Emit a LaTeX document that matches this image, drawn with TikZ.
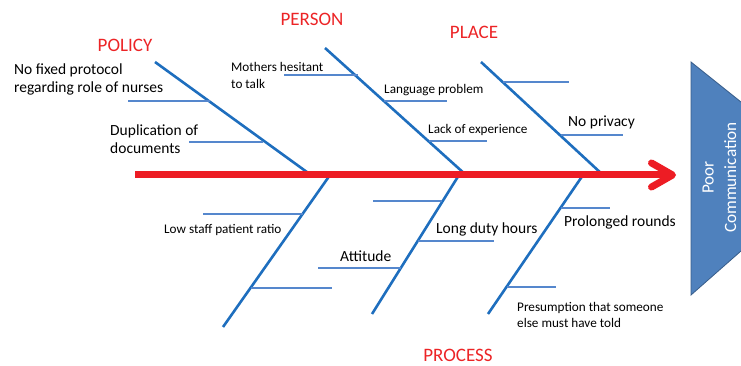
\documentclass[tikz,border=0pt]{standalone}
\usepackage{fontspec}
\setmainfont{Carlito}
\usetikzlibrary{arrows.meta}

\definecolor{bonecol}{RGB}{30,110,190}
\definecolor{twigcol}{RGB}{85,135,205}
\definecolor{spinecol}{RGB}{237,28,36}
\definecolor{catcol}{RGB}{236,36,38}
\definecolor{headfill}{RGB}{79,129,189}
\definecolor{headedge}{RGB}{56,93,138}

\begin{document}
\begin{tikzpicture}[x=1pt,y=-1pt,
  bone/.style={draw=bonecol,line width=2.6pt},
  twig/.style={draw=twigcol,line width=1.3pt},
  spine/.style={draw=spinecol,line width=7pt,
    -{Straight Barb[length=21pt,width=24pt,round]}},
  cat/.style={text=catcol,font=\fontsize{19}{21}\selectfont,inner sep=0pt},
  cause/.style={font=\fontsize{15.5}{18}\selectfont,inner sep=0pt,
    anchor=west,align=left},
  smallcause/.style={font=\fontsize{13.2}{16.5}\selectfont,inner sep=0pt,
    anchor=west,align=left},
]
\useasboundingbox (0,0) rectangle (741,366);

% ---- effect box (head of the fish)
\coordinate (h1) at (691,62);
\coordinate (h2) at (741,102);
\coordinate (h3) at (741,251);
\coordinate (h4) at (691,295);
\fill[headfill] (h1) -- (h2) -- (h3) -- (h4) -- cycle;
\draw[headedge,line width=0.8pt] (h2) -- (h1) -- (h4) -- (h3);
\node[rotate=90,text=white,align=center,
  font=\fontsize{17.2}{22.5}\selectfont] (effect) at (719.5,177.5)
  {Poor\\Communication};

% ---- upper bones
\coordinate (policyTop) at (155,62);   \coordinate (policyFoot) at (311,175);
\coordinate (personTop) at (325,48);   \coordinate (personFoot) at (466,175);
\coordinate (placeTop)  at (481,62);   \coordinate (placeFoot)  at (603,175);
\draw[bone] (policyTop) -- (policyFoot);
\draw[bone] (personTop) -- (personFoot);
\draw[bone] (placeTop) -- (placeFoot);

% ---- lower bones
\coordinate (procATop) at (330,175);  \coordinate (procAEnd) at (223,327);
\coordinate (procBTop) at (459,175);  \coordinate (procBEnd) at (372,314);
\coordinate (procCTop) at (583,175);  \coordinate (procCEnd) at (488,314);
\draw[bone] (procATop) -- (procAEnd);
\draw[bone] (procBTop) -- (procBEnd);
\draw[bone] (procCTop) -- (procCEnd);

% ---- twigs (sub-causes)
\coordinate (t1a) at (128,101); \coordinate (t1b) at (210,101);
\coordinate (t2a) at (189,142); \coordinate (t2b) at (263,142);
\coordinate (t3a) at (284,75);  \coordinate (t3b) at (358,75);
\coordinate (t4a) at (384,101); \coordinate (t4b) at (447,101);
\coordinate (t5a) at (429,141); \coordinate (t5b) at (487,141);
\coordinate (t6a) at (503,82);  \coordinate (t6b) at (569,82);
\coordinate (t7a) at (561,135); \coordinate (t7b) at (623,135);
\coordinate (t8a) at (203,214); \coordinate (t8b) at (303,214);
\coordinate (t9a) at (251,288); \coordinate (t9b) at (332,288);
\coordinate (t10a) at (373,201); \coordinate (t10b) at (442,201);
\coordinate (t11a) at (418,241); \coordinate (t11b) at (494,241);
\coordinate (t12a) at (318,268); \coordinate (t12b) at (401,268);
\coordinate (t13a) at (561,208); \coordinate (t13b) at (610,208);
\coordinate (t14a) at (507,287); \coordinate (t14b) at (556,287);
\foreach \i in {1,...,14} { \draw[twig] (t\i a) -- (t\i b); }

% ---- spine
\coordinate (tail) at (135,175);
\coordinate (tip) at (676,175);
\draw[spine] (tail) -- (tip);

% ---- category labels
\node[cat] (policy)  at (125,45)  {POLICY};
\node[cat] (person)  at (312,19)  {PERSON};
\node[cat] (place)   at (474,32)  {PLACE};
\node[cat] (process) at (458,355.5) {PROCESS};

% ---- cause labels
\node[cause] (c1) at (14,79.5) {No fixed protocol\\regarding role of nurses};
\node[cause] (c2) at (110,139) {Duplication of\\documents};
\node[smallcause] (c3) at (231,75.5) {Mothers hesitant\\to talk};
\node[smallcause] (c4) at (384,90) {Language problem};
\node[smallcause] (c5) at (428,130) {Lack of experience};
\node[cause] (c6) at (568,122) {No privacy};
\node[smallcause] (c7) at (164,230) {Low staff patient ratio};
\node[cause] (c8) at (340,256) {Attitude};
\node[cause] (c9) at (436,229) {Long duty hours};
\node[cause] (c10) at (564,222) {Prolonged rounds};
\node[smallcause,font=\fontsize{13.2}{16}\selectfont] (c11) at (517,315)
  {Presumption that someone\\else must have told};
\end{tikzpicture}
\end{document}
